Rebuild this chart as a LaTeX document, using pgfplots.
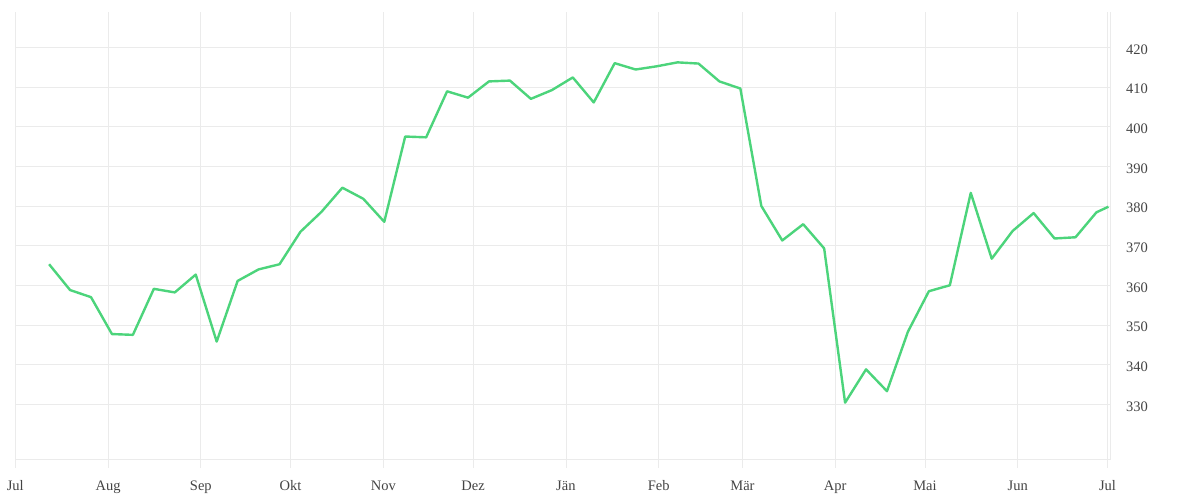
\documentclass[border=0pt]{standalone}
\usepackage{pgfplots}
\pgfplotsset{compat=1.18}
\usepackage{fontspec}
\setmainfont{Liberation Serif}
\definecolor{gridc}{HTML}{EBEBEB}
\definecolor{linec}{HTML}{4CD47B}
\definecolor{textc}{HTML}{444444}
\begin{document}
\begin{tikzpicture}
\begin{axis}[
  scale only axis, width=1095.2pt, height=447pt,
  xmin=0, xmax=366, ymin=316.2, ymax=428.9,
  axis x line*=bottom, axis y line*=right,
  axis line style={draw=gridc, line width=0.8pt, -},
  grid=major, major grid style={draw=gridc, line width=0.8pt},
  xtick={0,31,62,92,123,153,184,215,243,274,304,335,365},
  xticklabels={Jul,Aug,Sep,Okt,Nov,Dez,Jän,Feb,Mär,Apr,Mai,Jun,Jul},
  ytick={330,340,350,360,370,380,390,400,410,420},
  tick align=outside,
  x tick style={draw=gridc, line width=0.8pt},
  y tick style={draw=none},
  major tick length=9pt,
  /pgf/number format/assume math mode=true,
  tick label style={font=\fontsize{14.5}{16}\selectfont, text=textc},
  xticklabel style={text height=10pt, text depth=3pt, yshift=-9pt},
  yticklabel style={anchor=west, xshift=3pt, yshift=-2pt},
]
\addplot[linec, line width=2.4pt, line join=round] coordinates {
(11.3,365.3) (18.3,358.8) (25.3,357.0) (32.3,347.7) (39.3,347.5) (46.3,359.1)
(53.3,358.2) (60.3,362.7) (67.3,345.8) (74.3,361.1) (81.3,364.0) (88.3,365.3)
(95.3,373.5) (102.3,378.5) (109.3,384.6) (116.3,381.8) (123.3,376.0) (130.3,397.5)
(137.3,397.3) (144.3,408.9) (151.3,407.3) (158.3,411.4) (165.3,411.6) (172.3,407.0)
(179.3,409.2) (186.3,412.4) (193.3,406.1) (200.3,416.0) (207.3,414.4) (214.3,415.2)
(221.3,416.2) (228.3,415.9) (235.3,411.4) (242.3,409.6) (249.3,380.0) (256.3,371.3)
(263.3,375.4) (270.3,369.3) (277.3,330.4) (284.3,338.8) (291.3,333.3) (298.3,348.3)
(305.3,358.5) (312.3,360.0) (319.3,383.3) (326.3,366.7) (333.3,373.7) (340.3,378.2)
(347.3,371.8) (354.3,372.1) (361.3,378.4) (365.3,379.8)
};
\end{axis}
\pgfresetboundingbox
\path (current axis.south west) ++(-15.3pt,-41pt) rectangle ++(1200pt,500pt);
\end{tikzpicture}
\end{document}
